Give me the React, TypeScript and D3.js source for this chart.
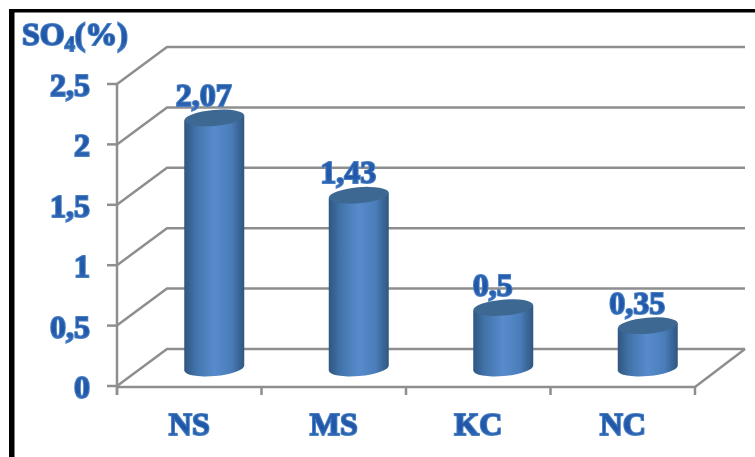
import React from "react";
import * as d3 from "d3";

const categories = ["NS", "MS", "KC", "NC"];
const values = [2.07, 1.43, 0.5, 0.35];
const valueLabels = ["2,07", "1,43", "0,5", "0,35"];
const ticks = [0, 0.5, 1, 1.5, 2, 2.5];
const tickLabels = ["0", "0,5", "1", "1,5", "2", "2,5"];

const W = 755, H = 457;
const x = d3.scaleBand<string>().domain(categories).range([117, 695]);
const y = d3.scaleLinear().domain([0, 2.5]).range([386, 84]);
const depthX = 50, depthY = -37;
const barW = 60, ry = 8, tilt = 5, lift = 2.6;
const grid = "#8e8e8e";

const textStyle: React.CSSProperties = {
  fontFamily: "'Liberation Serif', 'Times New Roman', serif",
  fontWeight: 700,
  fontSize: 32,
  fill: "url(#txt)",
  stroke: "#4a80c4",
  strokeWidth: 2,
  paintOrder: "stroke",
  filter: "url(#softText)",
};

export default function App() {
  const bw = x.bandwidth();
  return (
    <svg width={W} height={H} viewBox={`0 0 ${W} ${H}`} style={{ position: "absolute", left: 0, top: 0, background: "#fff" }}>
      <defs>
        <linearGradient id="bar" x1="0" x2="1" y1="0" y2="0">
          <stop offset="0" stopColor="#2f5680" />
          <stop offset="0.2" stopColor="#4274ab" />
          <stop offset="0.5" stopColor="#588bcb" />
          <stop offset="0.78" stopColor="#4a7dba" />
          <stop offset="1" stopColor="#2f5680" />
        </linearGradient>
        <linearGradient id="txt" x1="0" x2="0" y1="0" y2="1">
          <stop offset="0" stopColor="#2f66b4" />
          <stop offset="0.6" stopColor="#1f55a6" />
          <stop offset="1" stopColor="#3f78c0" />
        </linearGradient>
        <filter id="soft" x="-5%" y="-5%" width="110%" height="110%">
          <feGaussianBlur stdDeviation="0.5" />
        </filter>
        <filter id="softText" x="-10%" y="-10%" width="120%" height="120%">
          <feGaussianBlur stdDeviation="0.35" />
        </filter>
      </defs>
      <rect x={9} y={9} width={W - 9} height={3.5} fill="#000" />
      <rect x={9} y={9} width={5.5} height={H - 9} fill="#000" />
      <g stroke={grid} strokeWidth={2.5} fill="none" filter="url(#soft)">
        {ticks.map((t) => (
          <g key={t}>
            <line x1={107} x2={117} y1={y(t)} y2={y(t)} />
            <polyline points={`117,${y(t)} ${117 + depthX},${y(t) + depthY} ${695 + depthX},${y(t) + depthY}`} />
          </g>
        ))}
        <line x1={117} x2={117} y1={y(2.5)} y2={395} />
        <line x1={117} x2={695} y1={y(0) + 1} y2={y(0) + 1} />
        <line x1={695} x2={695 + depthX} y1={y(0) + 1} y2={y(0) + depthY} />
        {categories.map((c) => (
          <line key={c} x1={x(c)!} x2={x(c)!} y1={y(0)} y2={395} />
        ))}
        <line x1={695} x2={695} y1={y(0)} y2={395} />
      </g>
      {categories.map((c, i) => {
        const cx = x(c)! + bw / 2 + depthX / 2;
        const base = y(0) + depthY / 2 + 0.5;
        const top = base - (y(0) - y(values[i]));
        const l = cx - barW / 2, r = cx + barW / 2;
        return (
          <g key={c}>
            <path
              d={`M${l},${top + lift} L${l},${base + lift} A${barW / 2},${ry} ${-tilt} 0 0 ${r},${base - lift} L${r},${top - lift} Z`}
              fill="url(#bar)"
            />
            <ellipse cx={cx} cy={top} rx={barW / 2} ry={ry} fill="#3d6892" transform={`rotate(${-tilt} ${cx} ${top})`} />
            <text x={cx - 10.5} y={top - 12} textAnchor="middle" style={textStyle}>{valueLabels[i]}</text>
            <text x={x(c)! + bw / 2} y={435} textAnchor="middle" style={textStyle}>{c}</text>
          </g>
        );
      })}
      {ticks.map((t, i) => (
        <text key={t} x={90} y={y(t) + 12} textAnchor="end" style={textStyle}>{tickLabels[i]}</text>
      ))}
      <text x={22} y={45} style={textStyle}>
        SO<tspan fontSize={20} dy={6}>4</tspan><tspan dy={-6}>(%)</tspan>
      </text>
    </svg>
  );
}
